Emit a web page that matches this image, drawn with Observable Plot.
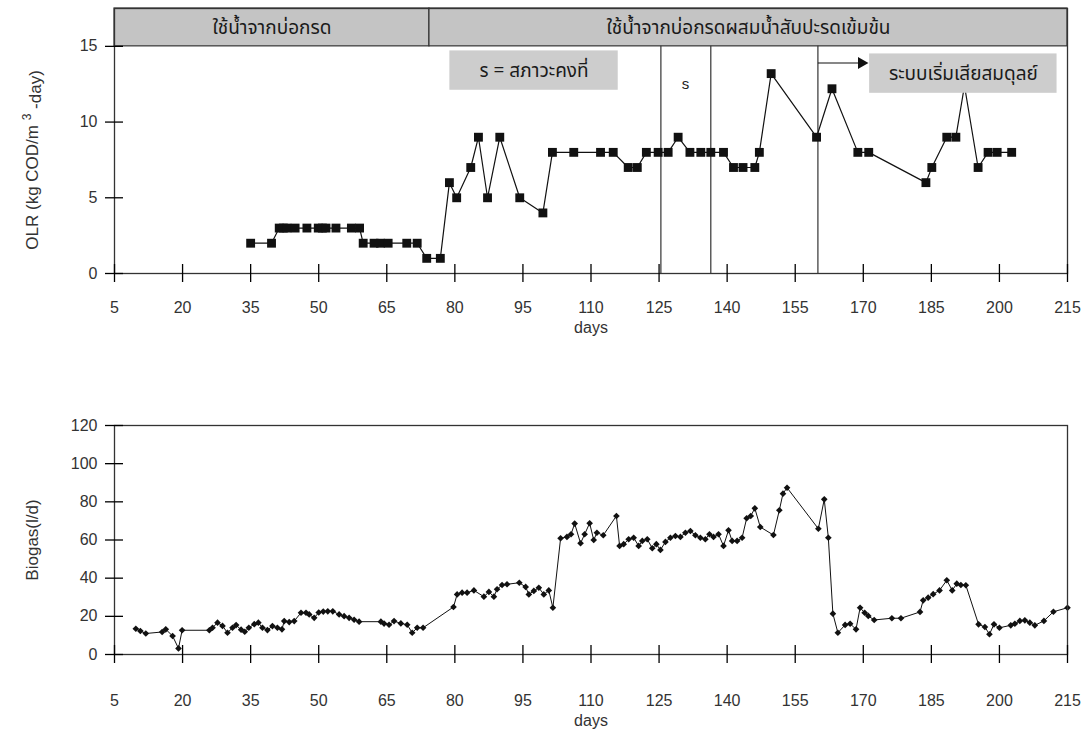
<!DOCTYPE html>
<html>
<head>
<meta charset="utf-8">
<script src="https://cdn.jsdelivr.net/npm/d3@7"></script>
<script src="https://cdn.jsdelivr.net/npm/@observablehq/plot@0.6"></script>
<style>
  body { margin: 0; background: #fff; }
  #chart { width: 1090px; height: 745px; overflow: hidden; }
  #chart svg { display: block; }
</style>
</head>
<body>
<div id="chart"></div>
<script>
// ---------- data ----------
const xTicks = [5, 20, 35, 50, 65, 80, 95, 110, 125, 140, 155, 170, 185, 200, 215];
const olrTicks = [0, 5, 10, 15];
const gasTicks = [0, 20, 40, 60, 80, 100, 120];

const olrDays = [35, 39.6, 41.3, 42.2, 43, 44.8, 47.4, 49.9, 50.8, 51.6, 53.8, 57.2, 59, 59.8, 62.2, 63.6, 65.3, 69.4, 71.7,
  73.8, 76.8, 78.8, 80.4, 83.5, 85.2, 87.2, 89.9, 94.3, 99.4, 101.5, 106.2, 112.1, 114.9, 118.2, 120.2, 122.2, 124.8,
  127, 129.2, 131.8, 134.2, 136.4, 139.2, 141.4, 143.5, 146.1, 147.1, 149.7, 159.7, 163.1, 168.8, 171.2, 183.8, 185.1,
  188.4, 190.4, 192.3, 195.3, 197.5, 199.5, 202.7];
const olrValues = [2, 2, 3, 3, 3, 3, 3, 3, 3, 3, 3, 3, 3, 2, 2, 2, 2, 2, 2,
  1, 1, 6, 5, 7, 9, 5, 9, 5, 4, 8, 8, 8, 8, 7, 7, 8, 8,
  8, 9, 8, 8, 8, 8, 7, 7, 7, 8, 13.2, 9, 12.2, 8, 8, 6, 7,
  9, 9, 12.4, 7, 8, 8, 8];

const gasDays = [9.7, 10.7, 11.9, 15.5, 16.3, 17.8, 19.1, 19.9, 25.9, 26.6, 27.7, 28.8, 29.9, 31, 31.8, 32.9, 33.7, 34.6,
  35.8, 36.7, 37.6, 38.7, 39.8, 40.9, 41.9, 42.4, 43.5, 44.6, 46.1, 47.2, 47.9, 49, 50, 51, 52, 53.1, 54.5, 55.6, 56.7,
  57.8, 58.9, 63.7, 64.4, 65.5, 66.6, 68.1, 69.5, 70.6, 71.7, 73, 79.7, 80.5, 81.6, 82.7, 84.2, 86.4, 87.5, 88.6, 89.3,
  90.4, 91.5, 94.2, 95.6, 96.3, 97.4, 98.5, 99.6, 100.7, 101.6, 103.3, 104.7, 105.6, 106.4, 107.7, 108.6, 109.7, 110.6,
  111.3, 112.7, 115.6, 116.3, 117.2, 118.3, 119.4, 120.5, 121.3, 122.4, 123.5, 124.4, 125.3, 126.4, 127.5, 128.6, 129.7,
  130.8, 131.9, 133, 134.1, 135.2, 136.1, 137, 138.1, 139.2, 140.3, 141.1, 142.2, 143.3, 144.3, 145.2, 146.1, 147.3,
  150.2, 151.5, 152.3, 153.2, 160.1, 161.4, 162.3, 163.3, 164.4, 166, 167.1, 168.4, 169.3, 170.3, 171.1, 172.4, 176.3,
  178.3, 182.5, 183.2, 184.3, 185.4, 186.8, 188.4, 189.6, 190.6, 191.5, 192.6, 195.4, 196.8, 197.8, 198.8, 200, 202.5,
  203.4, 204.5, 205.6, 206.7, 207.8, 209.8, 211.9, 215];
const gasValues = [13.5, 12.3, 11, 11.8, 13.2, 9.7, 3.2, 12.7, 12.7, 14, 16.7, 15, 11.4, 14, 15.4, 13, 11.9, 14,
  15.9, 16.7, 14, 12.8, 14.9, 14, 13.2, 17.5, 17, 17.5, 21.9, 21.9, 21, 19.2, 22, 22.5, 22.6, 22.6, 21, 20.1, 19.2,
  18.2, 17.2, 17.2, 16.2, 15.6, 17.5, 16.3, 15.6, 11.4, 14, 14, 24.9, 31.5, 32.4, 32.4, 33.6, 30.3, 32.8, 30.3, 34.2,
  36.4, 36.8, 37.6, 35.4, 31.5, 33.3, 35, 31.5, 33.6, 24.5, 60.9, 61.6, 63, 68.6, 58.3, 63, 68.8, 60,
  63.8, 62.5, 72.6, 56.9, 57.8, 60.4, 61.2, 56.9, 59.5, 60.4, 55.7, 57.8, 54.8, 59, 61.2, 62.1, 61.6,
  63.8, 64.7, 62.5, 61.2, 60.4, 63, 61.6, 63, 56.9, 65.1, 59.5, 59.5, 61.2, 71.4, 72.6, 76.6, 66.8,
  62.6, 75.6, 84.3, 87.4, 65.9, 81.3, 61.2, 21.4, 11.4, 15.5, 16.1, 13.2, 24.5, 21.9, 20.2, 18.1, 19,
  19, 22.3, 28.4, 29.8, 31.6, 33.6, 38.9, 33.6, 37.1, 36.4, 36.3, 15.8, 14.4, 10.6, 15.8, 14, 15.3,
  16.1, 17.6, 17.9, 16.7, 15.3, 17.6, 22.4, 24.5];

// phases (header band) and state dividers
const phaseStarts = [5, 74.4];
const phaseEnds = [74.4, 215];
const phaseLabels = ["ใช้น้ำจากบ่อกรด", "ใช้น้ำจากบ่อกรดผสมน้ำสับปะรดเข้มข้น"];
const stateLines = [125.4, 136.4, 160];

// annotation boxes
const noteStarts = [78.9, 171.4];
const noteEnds = [116, 212.7];
const noteLows = [12.1, 11.9];
const noteHighs = [14.7, 14.5];
const noteTexts = ["s = สภาวะคงที่", "ระบบเริ่มเสียสมดุลย์"];
const sLabel = {day: 130.8, value: 12.5, text: "s"};
const arrowFrom = 160, arrowTo = 169.6, arrowLevel = 13.9;

// ---------- build ----------
const olr = olrDays.map((d, i) => ({day: d, value: olrValues[i]}));
const gas = gasDays.map((d, i) => ({day: d, value: gasValues[i]}));
const phases = phaseStarts.map((s, i) => ({start: s, end: phaseEnds[i], label: phaseLabels[i]}));
const notes = noteStarts.map((s, i) => ({start: s, end: noteEnds[i], lo: noteLows[i], hi: noteHighs[i], text: noteTexts[i]}));

const FONT = "'Liberation Sans', Arial, 'Noto Sans', sans-serif";
const THAI = "'Noto Sans Thai', 'Noto Sans', 'DejaVu Sans', sans-serif";
const headerTop = 17.5, headerBottom = 15;
const W = 1090, ML = 114, MR = 23;
const FS = 16;

function xAxes(ticks, pad, daysDy) {
  return [
    Plot.axisX({ticks, tickSize: 18, dy: -9, tickFormat: () => "", label: null, strokeWidth: 1.3}),
    Plot.axisX({ticks, tickSize: 0, tickPadding: pad, label: null, fontSize: FS, fill: "#333"}),
    Plot.text(["days"], {frameAnchor: "bottom", dy: daysDy, text: d => d, fontSize: FS, fill: "#333"})
  ];
}
function yAxes(ticks) {
  return [
    Plot.axisY({ticks, tickSize: 18, dx: 9, tickFormat: () => "", label: null, strokeWidth: 1.3}),
    Plot.axisY({ticks, tickSize: 0, tickPadding: 17, label: null, fontSize: FS, fill: "#333"})
  ];
}

const olrChart = Plot.plot({
  width: W, height: 380,
  marginLeft: ML, marginRight: MR, marginTop: 8, marginBottom: 107,
  style: {fontFamily: FONT, fontSize: FS + "px", background: "#fff", overflow: "visible"},
  x: {domain: [5, 215], axis: null},
  y: {domain: [0, headerTop], axis: null},
  marks: [
    Plot.rect(phases, {x1: "start", x2: "end", y1: headerBottom, y2: headerTop, fill: "#c4c4c4", stroke: "#333", strokeWidth: 1.2}),
    Plot.text(phases, {x: d => (d.start + d.end) / 2, y: (headerBottom + headerTop) / 2, text: "label", fontSize: 19, fontFamily: THAI, fill: "#1a1a1a"}),
    Plot.ruleX(stateLines, {y1: 0, y2: headerBottom, stroke: "#333", strokeWidth: 1.2}),
    Plot.line(olr, {x: "day", y: "value", stroke: "#111", strokeWidth: 1.2}),
    Plot.dot(olr, {x: "day", y: "value", symbol: "square", r: 5, fill: "#111", stroke: null}),
    Plot.rect(notes, {x1: "start", x2: "end", y1: "lo", y2: "hi", fill: "#cdcdcd", stroke: "none"}),
    Plot.text(notes, {x: d => (d.start + d.end) / 2, y: d => (d.lo + d.hi) / 2, text: "text", fontSize: 19, fontFamily: THAI, fill: "#1a1a1a"}),
    Plot.text([sLabel], {x: "day", y: "value", text: "text", fontSize: 15, fill: "#222"}),
    Plot.link([0], {x1: arrowFrom, x2: arrowTo, y1: arrowLevel, y2: arrowLevel, stroke: "#111", strokeWidth: 1.2}),
    Plot.dot([0], {x: arrowTo, y: arrowLevel, symbol: "triangle", rotate: 90, r: 4.5, fill: "#111", stroke: null}),
    Plot.frame({stroke: "#333", strokeWidth: 1.3}),
    ...xAxes(xTicks, 28, 59),
    ...yAxes(olrTicks),
    Plot.text(["OLR (kg COD/m3 -day)"], {frameAnchor: "left", y: 7.5, dx: -82, rotate: -90, textAnchor: "middle", text: d => d, fontSize: 17, fill: "#333", className: "olr-label"})
  ]
});

const gasChart = Plot.plot({
  width: W, height: 365,
  marginLeft: ML, marginRight: MR, marginTop: 45, marginBottom: 91,
  style: {fontFamily: FONT, fontSize: FS + "px", background: "#fff", overflow: "visible"},
  x: {domain: [5, 215], axis: null},
  y: {domain: [0, 120], axis: null},
  marks: [
    Plot.line(gas, {x: "day", y: "value", stroke: "#111", strokeWidth: 1}),
    Plot.dot(gas, {x: "day", y: "value", symbol: "diamond2", r: 3, fill: "#111", stroke: null}),
    Plot.frame({stroke: "#333", strokeWidth: 1.3}),
    ...xAxes(xTicks, 40, 71),
    ...yAxes(gasTicks),
    Plot.text(["Biogas(l/d)"], {frameAnchor: "left", y: 60, dx: -82, rotate: -90, textAnchor: "middle", text: d => d, fontSize: 17, fill: "#333"})
  ]
});

const chart = document.getElementById("chart");
chart.appendChild(olrChart);
chart.appendChild(gasChart);

// superscript "3" in the OLR unit label
d3.select(olrChart).selectAll(".olr-label text").each(function() {
  const t = d3.select(this);
  t.text(null);
  t.append("tspan").text("OLR (kg COD/m ");
  t.append("tspan").attr("dy", "-0.55em").attr("font-size", 12).text("3");
  t.append("tspan").attr("dy", "0.55em").text(" -day)");
});
</script>
</body>
</html>
